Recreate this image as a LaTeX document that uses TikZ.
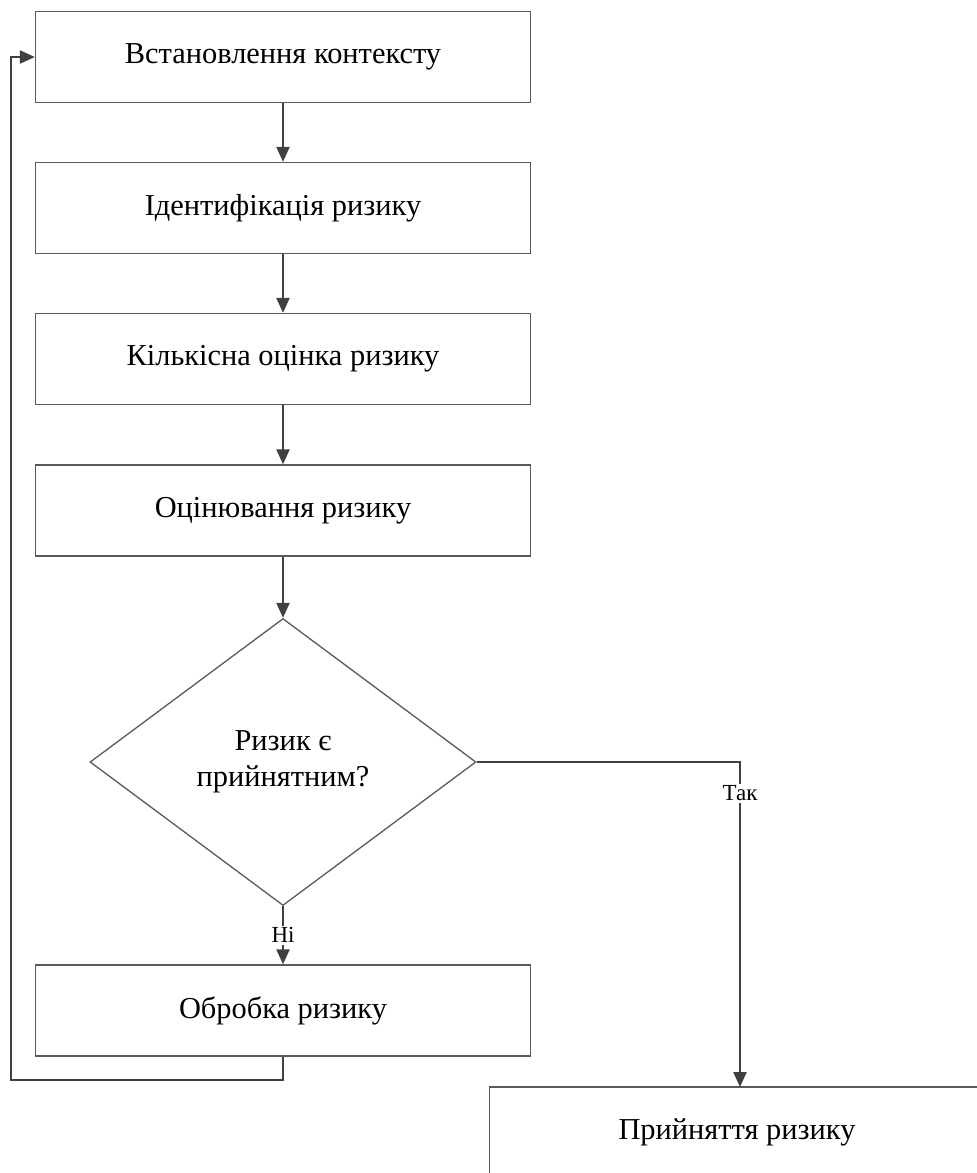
\documentclass[tikz,border=0pt]{standalone}
\usepackage{fontspec}
\setmainfont{Liberation Serif}
\usetikzlibrary{arrows.meta,shapes.geometric}
\definecolor{linedark}{HTML}{404040}
\definecolor{boxedge}{HTML}{5A5A5A}
\begin{document}
\begin{tikzpicture}[x=1pt,y=-1pt,
  stepbox/.style={draw=boxedge, line width=1.3pt, fill=white, minimum width=495pt,
    minimum height=91pt, inner sep=0pt, font=\fontsize{30.4}{36}\selectfont},
  decbox/.style={draw=boxedge, line width=1.3pt, fill=white, diamond, minimum width=386pt,
    minimum height=287pt, inner sep=0pt, align=center, font=\fontsize{30.4}{36}\selectfont},
  conn/.style={draw=linedark, line width=2.2pt, -{Triangle[length=15pt,width=13pt]}},
  lbl/.style={fill=white, inner sep=2pt, font=\fontsize{23}{26}\selectfont}]
\useasboundingbox (0,0) rectangle (977,1173);
\clip (0,0) rectangle (977,1173);

\node[stepbox] (ctx)  at (283,57)    {Встановлення контексту};
\node[stepbox] (idn)  at (283,208)   {Ідентифікація ризику};
\node[stepbox] (qnt)  at (283,359)   {Кількісна оцінка ризику};
\node[stepbox] (evl)  at (283,510.5) {Оцінювання ризику};
\node[decbox]  (dec)  at (283,762)   {Ризик є\\прийнятним?};
\node[stepbox] (trt)  at (283,1010.5){Обробка ризику};
\node[stepbox] (acc)  at (737,1132.5){Прийняття ризику};

\coordinate (acctop) at (740,1087);

\draw[conn] (ctx) -- (idn);
\draw[conn] (idn) -- (qnt);
\draw[conn] (qnt) -- (evl);
\draw[conn] (evl) -- (dec.north);
\draw[conn] (dec.south) -- node[lbl] {Ні} (trt.north);
\draw[conn] (dec.east) -| node[lbl, pos=0.548] {Так} (acctop);
\draw[conn] (trt.south) -- ++(0,23) -| ([xshift=-24pt]ctx.west) -- (ctx.west);
\end{tikzpicture}
\end{document}
